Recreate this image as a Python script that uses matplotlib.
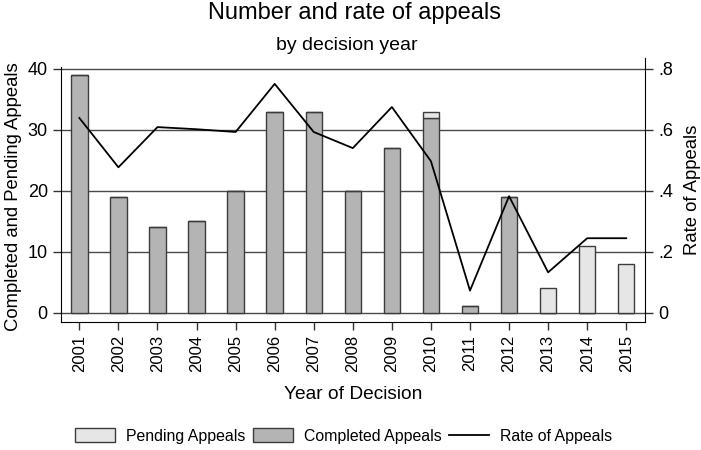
import numpy as np
import matplotlib.pyplot as plt

plt.rcParams['font.family'] = ['Liberation Sans', 'DejaVu Sans']

# Данные
years = [2001, 2002, 2003, 2004, 2005, 2006, 2007, 2008, 2009, 2010,
         2011, 2012, 2013, 2014, 2015]
completed = [39, 19, 14, 15, 20, 33, 33, 20, 27, 32, 1, 19, 0, 0, 0]
pending = [0, 0, 0, 0, 0, 0, 0, 0, 0, 1, 0, 0, 4, 11, 8]
rate = [0.639, 0.477, 0.609, 0.602, 0.593, 0.751, 0.593, 0.540, 0.675,
        0.497, 0.072, 0.382, 0.132, 0.244, 0.244]

fig = plt.figure(figsize=(7.01, 4.5), dpi=100)
ax = fig.add_axes([61 / 701, 1 - 322 / 450, 584 / 701, 264 / 450])

edge = '#3c3c3c'
ax.bar(years, completed, width=0.42, color='#b4b4b4', edgecolor=edge,
       linewidth=1, label='Completed Appeals', zorder=2)
ax.bar(years, pending, width=0.42, bottom=completed, color='#e6e6e6',
       edgecolor=edge, linewidth=1, label='Pending Appeals', zorder=2)

ylo, yhi = -1.56, 41.8
ax.set_ylim(ylo, yhi)
ax.set_xlim(2000.53, 2015.48)
ax.set_yticks([0, 10, 20, 30, 40])
ax.set_xticks(years)
ax.set_xticklabels([str(y) for y in years], rotation=90, fontsize=12)
ax.tick_params(axis='y', labelsize=13, length=6, width=1, color='#333333')
ax.tick_params(axis='x', length=6, width=1, color='#333333')
for y in [0, 10, 20, 30, 40]:
    ax.axhline(y, color='#4a4a4a', linewidth=1, zorder=1)
ax.spines['top'].set_visible(False)
ax.spines['right'].set_visible(False)
ax.spines['left'].set_bounds(ylo, 40.3)
ax.set_ylabel('Completed and Pending Appeals', fontsize=13.3)
ax.yaxis.set_label_coords(-0.066, 0.475)
ax.set_xlabel('Year of Decision', fontsize=13.8, labelpad=10)

# Вторая ось: доля апелляций
ax2 = ax.twinx()
ax2.plot(years, rate, color='black', linewidth=1.3, label='Rate of Appeals', zorder=3)
ax2.set_ylim(ylo * 0.02, yhi * 0.02)
ax2.set_yticks([0, 0.2, 0.4, 0.6, 0.8])
ax2.set_yticklabels(['0', '.2', '.4', '.6', '.8'])
ax2.tick_params(axis='y', labelsize=13, length=6, width=1, color='#333333')
for s in ['top', 'left', 'bottom']:
    ax2.spines[s].set_visible(False)
ax2.set_ylabel('Rate of Appeals', fontsize=13.3, labelpad=8)

fig.text(0.505, 0.972, 'Number and rate of appeals', ha='center', va='center', fontsize=17)
fig.text(0.495, 0.898, 'by decision year', ha='center', va='center', fontsize=14)

h1, l1 = ax.get_legend_handles_labels()
h2, l2 = ax2.get_legend_handles_labels()
fig.legend([h1[1], h1[0], h2[0]], [l1[1], l1[0], l2[0]], loc='center',
           bbox_to_anchor=(0.49, 1 - 436 / 450), ncol=3, frameon=False,
           fontsize=11.4, handlelength=2.55, handleheight=1.0,
           handletextpad=0.7, columnspacing=0.45)

plt.savefig('out.png', dpi=100)
